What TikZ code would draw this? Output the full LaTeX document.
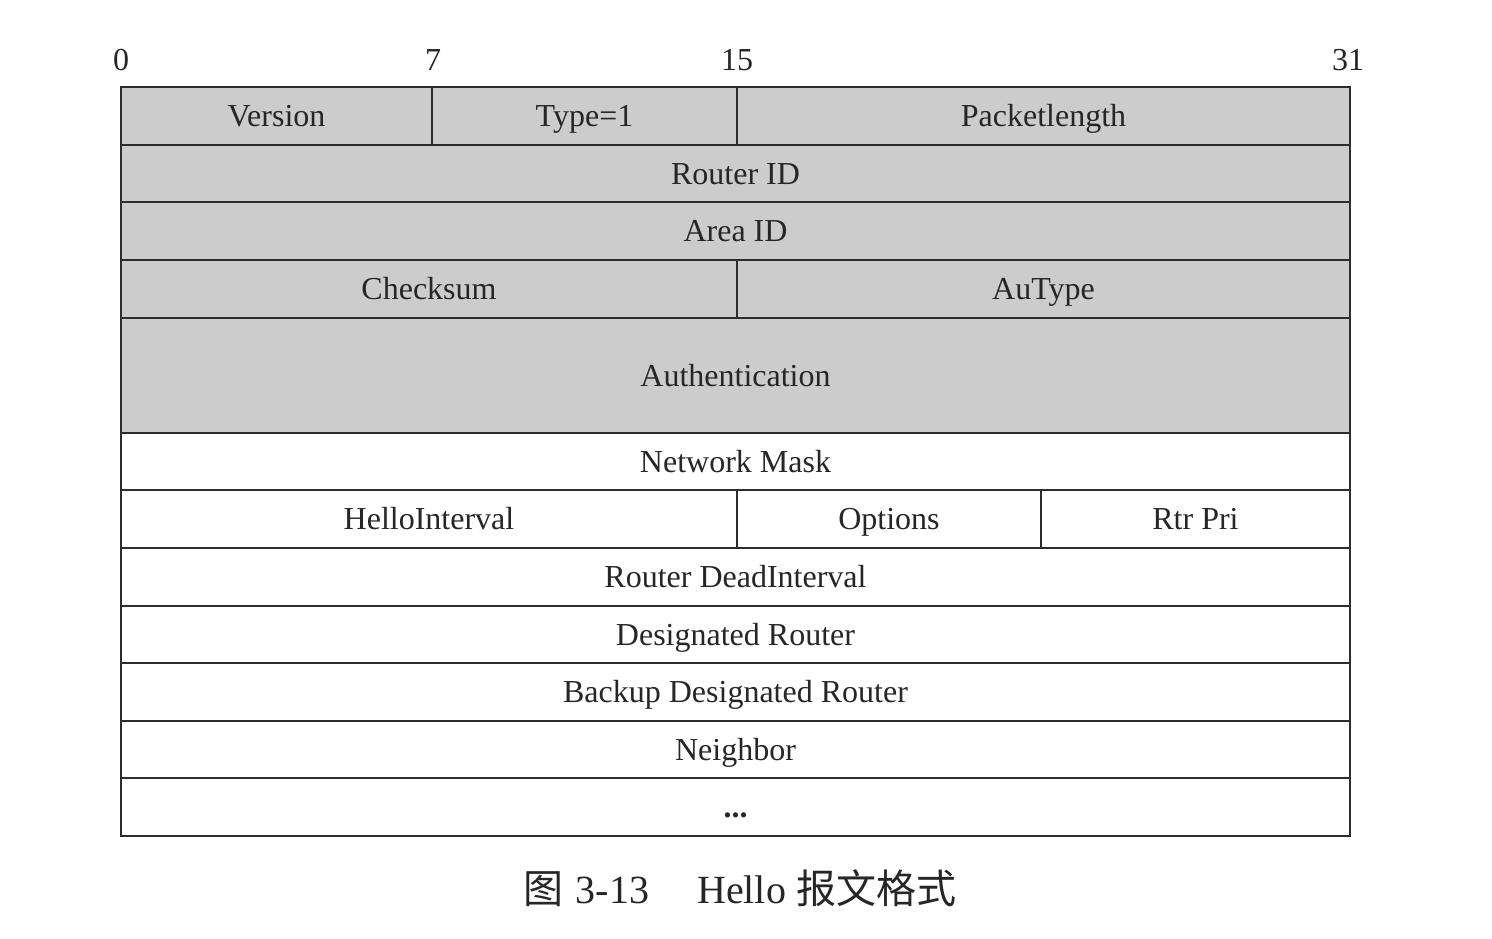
\documentclass[tikz,border=0pt]{standalone}
\usepackage{fontspec}
\setmainfont{Liberation Serif}
\newfontfamily\cjk{Noto Sans CJK SC}
\definecolor{fieldgray}{RGB}{204,204,204}
\definecolor{rule}{RGB}{45,45,45}
\tikzset{
  field/.style={draw=rule, line width=1pt, inner sep=0pt,
    font=\fontsize{16}{19}\selectfont, text=black!85,
    text height=10.6pt, text depth=0pt},
  shaded/.style={field, fill=fieldgray},
  plain/.style={field, fill=white},
  bitnum/.style={font=\fontsize{16}{19}\selectfont, text=black!85},
}
% \fieldbox{style}{name}{x1}{y1}{x2}{y2}{label}  (pixel units)
\newcommand{\fieldbox}[7]{%
  \node[#1, minimum width={(#5-#3)*0.5pt}, minimum height={(#6-#4)*0.5pt}]
    (#2) at ({(#3+#5)/2},{(#4+#6)/2}) {#7};}
\begin{document}
\begin{tikzpicture}[x=0.5pt,y=-0.5pt]
\useasboundingbox (0,0) rectangle (1492,938);
\fill[white] (0,0) rectangle (1492,938);
% bit positions
\node[bitnum] (b0)  at (121,60) {0};
\node[bitnum] (b7)  at (433,60) {7};
\node[bitnum] (b15) at (737,60) {15};
\node[bitnum] (b31) at (1348,60) {31};
% header (shaded)
\fieldbox{shaded}{ver}{121}{87}{432}{145}{Version}
\fieldbox{shaded}{type}{432}{87}{737}{145}{Type=1}
\fieldbox{shaded}{plen}{737}{87}{1350}{145}{Packetlength}
\fieldbox{shaded}{rid}{121}{145}{1350}{202}{Router ID}
\fieldbox{shaded}{aid}{121}{202}{1350}{260}{Area ID}
\fieldbox{shaded}{cks}{121}{260}{737}{318}{Checksum}
\fieldbox{shaded}{aut}{737}{260}{1350}{318}{AuType}
\fieldbox{shaded}{auth}{121}{318}{1350}{433}{Authentication}
% hello body
\fieldbox{plain}{mask}{121}{433}{1350}{490}{Network Mask}
\fieldbox{plain}{hint}{121}{490}{737}{548}{HelloInterval}
\fieldbox{plain}{opt}{737}{490}{1041}{548}{Options}
\fieldbox{plain}{pri}{1041}{490}{1350}{548}{Rtr Pri}
\fieldbox{plain}{dead}{121}{548}{1350}{606}{Router DeadInterval}
\fieldbox{plain}{dr}{121}{606}{1350}{663}{Designated Router}
\fieldbox{plain}{bdr}{121}{663}{1350}{721}{Backup Designated Router}
\fieldbox{plain}{nbr}{121}{721}{1350}{778}{Neighbor}
\fieldbox{plain}{more}{121}{778}{1350}{836}{\textbf{...}}
% caption
\node[font=\fontsize{20}{24}\selectfont, text=black!85] (cap) at (740,888)
  {{\cjk 图}\hspace{0.3em}3-13\hspace{1.2em}Hello {\cjk 报文格式}};
\end{tikzpicture}
\end{document}
